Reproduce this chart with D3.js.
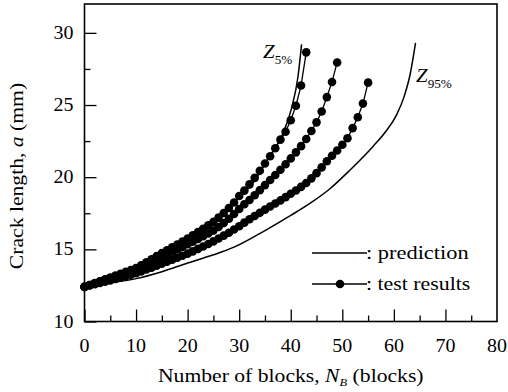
<!DOCTYPE html>
<html>
<head>
<meta charset="utf-8">
<script src="https://cdn.jsdelivr.net/npm/d3@7"></script>
<style>
  body { margin: 0; background: #fff; }
</style>
</head>
<body>
<svg id="chart" width="508" height="392"></svg>
<script>
// crack length a (mm) at each block N = 0, 1, 2, ... for the three test specimens
const test1 = [12.40, 12.53, 12.66, 12.79, 12.92, 13.05, 13.18, 13.31, 13.44, 13.57,
  13.70, 13.90, 14.10, 14.31, 14.53, 14.75, 14.94, 15.14, 15.34, 15.54,
  15.75, 15.97, 16.19, 16.42, 16.66, 16.90, 17.20, 17.52, 17.86, 18.25,
  18.70, 19.07, 19.50, 19.95, 20.45, 20.95, 21.45, 22.00, 22.60, 23.15,
  23.95, 24.95, 26.35, 28.65];
const test2 = [12.40, 12.52, 12.64, 12.76, 12.88, 13.00, 13.12, 13.24, 13.36, 13.48,
  13.60, 13.77, 13.94, 14.12, 14.31, 14.50, 14.66, 14.83, 15.00, 15.17,
  15.35, 15.53, 15.72, 15.91, 16.10, 16.30, 16.55, 16.82, 17.12, 17.45,
  17.80, 18.12, 18.42, 18.75, 19.10, 19.45, 19.80, 20.15, 20.52, 20.90,
  21.30, 21.72, 22.15, 22.65, 23.20, 23.80, 24.55, 25.55, 26.60, 27.95];
const test3 = [12.40, 12.49, 12.58, 12.67, 12.76, 12.85, 12.95, 13.05, 13.15, 13.25,
  13.35, 13.47, 13.60, 13.73, 13.86, 14.00, 14.14, 14.28, 14.42, 14.56,
  14.70, 14.86, 15.03, 15.20, 15.37, 15.55, 15.75, 15.95, 16.15, 16.37,
  16.60, 16.85, 17.08, 17.31, 17.53, 17.75, 17.97, 18.18, 18.39, 18.62,
  18.85, 19.08, 19.33, 19.60, 19.92, 20.28, 20.68, 21.10, 21.48, 21.85,
  22.25, 22.70, 23.40, 24.15, 25.10, 26.55];

// prediction bounds
const z5Blocks = [0, 5, 10, 15, 20, 25, 30, 33, 35.8, 38.5, 40.15, 41.4, 42.1];
const z5Crack = [12.4, 13.05, 13.78, 14.8, 15.85, 17.0, 18.6, 19.75, 21.4, 23.04, 24.77, 26.96, 29.2];
const z95Blocks = [0, 5, 10, 15, 20, 25, 29, 35, 40, 44, 47.6, 51.5, 56, 58.5, 60.5, 62, 63.2, 64.2];
const z95Crack = [12.4, 12.68, 12.97, 13.45, 14.05, 14.62, 15.15, 16.3, 17.35, 18.25, 19.2, 20.5, 22.15, 23.2, 24.3, 25.6, 27.2, 29.3];

const xTicks = [0, 10, 20, 30, 40, 50, 60, 70, 80];
const yTicks = [10, 15, 20, 25, 30];

const serif = "'Liberation Serif', 'Times New Roman', serif";
const stretch = 1.14; // the scanned lettering is wider than it is tall

const margin = { top: 4, right: 11, bottom: 70.5, left: 84.5 };
const width = 508, height = 392;

const svg = d3.select("#chart").style("font-family", serif);

const x = d3.scaleLinear().domain([0, 80]).range([margin.left, width - margin.right]);
const y = d3.scaleLinear().domain([10, 32]).range([height - margin.bottom, margin.top]);

// axes (ticks point inward, minor ones shorter)
svg.append("g")
    .attr("transform", `translate(0,${y(10)})`)
    .call(d3.axisBottom(x).tickValues(d3.range(0, 80, 5)).tickSizeOuter(0).tickFormat(""))
    .call(g => g.select(".domain").remove())
    .call(g => g.selectAll(".tick line")
        .attr("y2", d => d % 10 === 0 ? -12 : -6)
        .attr("stroke", "#000").attr("stroke-width", 1.3));

svg.append("g")
    .attr("transform", `translate(${x(0)},0)`)
    .call(d3.axisLeft(y).tickValues(d3.range(10, 32, 2.5)).tickSizeOuter(0).tickFormat(""))
    .call(g => g.select(".domain").remove())
    .call(g => g.selectAll(".tick line")
        .attr("x2", d => d % 5 === 0 ? 12 : 6)
        .attr("stroke", "#000").attr("stroke-width", 1.3));

svg.append("rect")
    .attr("x", x(0)).attr("y", y(32))
    .attr("width", x(80) - x(0)).attr("height", y(10) - y(32))
    .attr("fill", "none").attr("stroke", "#000").attr("stroke-width", 1.6);

svg.append("g").selectAll("text")
    .data(xTicks).join("text")
    .attr("transform", d => `translate(${x(d)},${y(10) + 30}) scale(1.05,1)`)
    .attr("text-anchor", "middle")
    .attr("font-size", 19)
    .text(d => d);

svg.append("g").selectAll("text")
    .data(yTicks).join("text")
    .attr("transform", d => `translate(${x(0) - 11},${y(d) + 6}) scale(1.05,1)`)
    .attr("text-anchor", "end")
    .attr("font-size", 19)
    .text(d => d);

// axis titles
const xt = svg.append("text")
    .attr("transform", `translate(${(x(0) + x(80)) / 2},382) scale(${stretch},1)`)
    .attr("text-anchor", "middle").attr("font-size", 19);
xt.append("tspan").text("Number of blocks, ");
xt.append("tspan").attr("font-style", "italic").text("N");
xt.append("tspan").attr("font-style", "italic").attr("font-size", 11).attr("dy", 4).text("B");
xt.append("tspan").attr("dy", -4).text(" (blocks)");

const yt = svg.append("text")
    .attr("transform", `translate(23,176) rotate(-90) scale(${stretch},1)`)
    .attr("text-anchor", "middle").attr("font-size", 19);
yt.append("tspan").text("Crack length, ");
yt.append("tspan").attr("font-style", "italic").text("a");
yt.append("tspan").text(" (mm)");

// prediction curves
const predLine = d3.line()
    .x(d => x(d[0])).y(d => y(d[1]))
    .curve(d3.curveMonotoneX);

svg.append("path")
    .datum(z5Blocks.map((n, i) => [n, z5Crack[i]]))
    .attr("d", predLine)
    .attr("fill", "none").attr("stroke", "#000").attr("stroke-width", 1.5);

svg.append("path")
    .datum(z95Blocks.map((n, i) => [n, z95Crack[i]]))
    .attr("d", predLine)
    .attr("fill", "none").attr("stroke", "#000").attr("stroke-width", 1.5);

// test results
const testLine = d3.line().x((d, i) => x(i)).y(d => y(d));

[test1, test2, test3].forEach(series => {
    const g = svg.append("g");
    g.append("path")
        .datum(series)
        .attr("d", testLine)
        .attr("fill", "none").attr("stroke", "#000").attr("stroke-width", 1.3);
    g.selectAll("circle")
        .data(series).join("circle")
        .attr("cx", (d, i) => x(i)).attr("cy", d => y(d))
        .attr("r", 4.3).attr("fill", "#000");
});

// curve labels
const z5 = svg.append("text")
    .attr("transform", `translate(263,58) scale(1.1,1)`).attr("font-size", 19);
z5.append("tspan").attr("font-style", "italic").text("Z");
z5.append("tspan").attr("font-size", 12).attr("dy", 6).text("5%");

const z95 = svg.append("text")
    .attr("transform", `translate(416,82) scale(1.1,1)`).attr("font-size", 19);
z95.append("tspan").attr("font-style", "italic").text("Z");
z95.append("tspan").attr("font-size", 12).attr("dy", 6).text("95%");

// legend
const legend = svg.append("g");
legend.append("line")
    .attr("x1", 312).attr("x2", 367).attr("y1", 253).attr("y2", 253)
    .attr("stroke", "#000").attr("stroke-width", 1.5);
legend.append("text")
    .attr("transform", `translate(366,258.5) scale(1.18,1)`)
    .attr("font-size", 19).text(": prediction");
legend.append("line")
    .attr("x1", 312).attr("x2", 367).attr("y1", 284).attr("y2", 284)
    .attr("stroke", "#000").attr("stroke-width", 1.5);
legend.append("circle").attr("cx", 340).attr("cy", 284).attr("r", 4.3).attr("fill", "#000");
legend.append("text")
    .attr("transform", `translate(366,289.5) scale(1.15,1)`)
    .attr("font-size", 19).text(": test results");
</script>
</body>
</html>
